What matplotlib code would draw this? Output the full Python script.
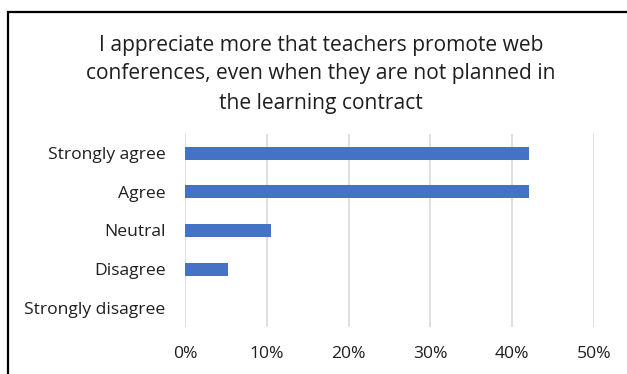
import matplotlib
matplotlib.use("Agg")
import matplotlib.pyplot as plt
from matplotlib.patches import Rectangle
from matplotlib.ticker import PercentFormatter

categories = ["Strongly agree", "Agree", "Neutral", "Disagree", "Strongly disagree"]
shares = [42.1, 42.1, 10.5, 5.3, 0.0]
x_ticks = [0, 10, 20, 30, 40, 50]
title = ("I appreciate more that teachers promote web\n"
         "conferences, even when they are not planned in\n"
         "the learning contract")

plt.rcParams["font.family"] = ["Open Sans", "DejaVu Sans"]

W, H = 627, 374
fig = plt.figure(figsize=(W / 100, H / 100), dpi=100)
fig.patch.set_facecolor("white")

# outer frame (open at right and bottom)
fig.add_artist(Rectangle((8 / W, -0.1), 1.2, (H - 12) / H + 0.1,
                         transform=fig.transFigure, fill=False,
                         edgecolor="black", linewidth=1.6))

ax = fig.add_axes([185 / W, 1 - 327 / H, (594 - 185) / W, (327 - 134) / H])
y = list(range(len(categories)))
ax.barh(y, shares, height=0.34, color="#4472C4", zorder=3)
ax.set_ylim(len(categories) - 0.5, -0.5)
ax.set_yticks(y)
ax.set_yticklabels(categories, fontsize=12.6, color="#1f1f1f")
ax.set_xlim(0, 50)
ax.set_xticks(x_ticks)
ax.xaxis.set_major_formatter(PercentFormatter(decimals=0))
ax.tick_params(axis="x", labelsize=12.6, labelcolor="#1f1f1f", length=0, pad=14)
ax.tick_params(axis="y", length=0, pad=14)
ax.grid(axis="x", color="#d9d9d9", linewidth=1.2, zorder=0)
for s in ax.spines.values():
    s.set_visible(False)

fig.text(321 / W, 1 - 74 / H, title, ha="center", va="center",
         fontsize=15.1, color="#1f1f1f", linespacing=1.5)

fig.savefig("out.png", dpi=100)
